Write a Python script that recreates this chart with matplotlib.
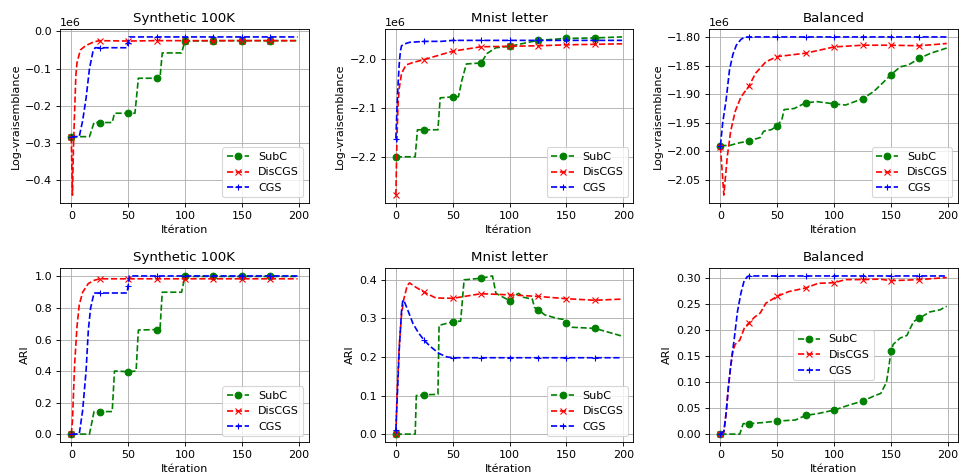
import numpy as np
import matplotlib
matplotlib.use("Agg")
import matplotlib.pyplot as plt

# Titres et etiquettes
titres = ["Synthetic 100K", "Mnist letter", "Balanced"]
noms = ["SubC", "DisCGS", "CGS"]

# Log-vraisemblance (en millions)
syn_ll_subc_x = [0, 16, 20, 25, 36, 38, 50, 56, 59, 75, 78, 80, 97, 100, 125, 150, 175, 199]
syn_ll_subc_y = [-0.283, -0.283, -0.245, -0.245, -0.245, -0.220, -0.220, -0.220, -0.126, -0.126,
                 -0.126, -0.058, -0.058, -0.026, -0.025, -0.025, -0.025, -0.025]
syn_ll_dis_x = [0, 1, 2, 4, 5, 8, 12, 15, 20, 25, 50, 75, 100, 125, 150, 175, 199]
syn_ll_dis_y = [-0.285, -0.44, -0.30, -0.12, -0.085, -0.05, -0.04, -0.035, -0.028, -0.025,
                -0.026, -0.025, -0.025, -0.025, -0.025, -0.025, -0.025]
syn_ll_cgs_x = [0, 7, 10, 13, 16, 19, 21, 25, 49, 50, 51, 75, 100, 125, 150, 175, 199]
syn_ll_cgs_y = [-0.283, -0.283, -0.24, -0.18, -0.10, -0.055, -0.044, -0.044, -0.044, -0.032,
                -0.015, -0.015, -0.015, -0.015, -0.015, -0.015, -0.015]

mn_ll_subc_x = [0, 17, 19, 25, 37, 39, 50, 55, 58, 62, 75, 80, 88, 100, 125, 150, 175, 199]
mn_ll_subc_y = [-2.2, -2.2, -2.145, -2.145, -2.145, -2.08, -2.078, -2.078, -2.045, -2.011, -2.009,
                -1.99, -1.978, -1.975, -1.963, -1.959, -1.958, -1.956]
mn_ll_dis_x = [0, 1, 2, 3, 5, 9, 15, 25, 50, 75, 100, 125, 150, 175, 199]
mn_ll_dis_y = [-2.278, -2.16, -2.09, -2.06, -2.03, -2.013, -2.008, -2.002, -1.985, -1.976,
               -1.975, -1.974, -1.972, -1.971, -1.970]
mn_ll_cgs_x = [0, 1, 2, 3, 4, 5, 8, 12, 25, 40, 50, 75, 100, 125, 150, 175, 199]
mn_ll_cgs_y = [-2.163, -2.10, -2.05, -2.01, -1.985, -1.974, -1.970, -1.967, -1.965, -1.965,
               -1.963, -1.963, -1.963, -1.963, -1.963, -1.963, -1.963]

bal_ll_subc_x = [0, 8, 15, 25, 35, 38, 45, 50, 54, 56, 65, 75, 85, 100, 110, 125, 135, 150,
                 158, 165, 175, 185, 199]
bal_ll_subc_y = [-1.99, -1.99, -1.986, -1.982, -1.976, -1.965, -1.962, -1.955, -1.945, -1.927,
                 -1.925, -1.915, -1.913, -1.917, -1.919, -1.908, -1.895, -1.866, -1.852, -1.849,
                 -1.837, -1.828, -1.819]
bal_ll_dis_x = [0, 3, 6, 9, 13, 18, 25, 31, 40, 50, 75, 100, 125, 150, 175, 199]
bal_ll_dis_y = [-1.992, -2.077, -2.01, -1.965, -1.93, -1.905, -1.886, -1.863, -1.843, -1.834,
                -1.828, -1.817, -1.814, -1.814, -1.815, -1.811]
bal_ll_cgs_x = [0, 2, 5, 8, 11, 14, 18, 21, 25, 50, 75, 100, 125, 150, 175, 199]
bal_ll_cgs_y = [-1.99, -1.95, -1.91, -1.857, -1.83, -1.814, -1.804, -1.80, -1.7995, -1.7995,
                -1.7995, -1.7995, -1.7995, -1.7995, -1.7995, -1.7995]

# ARI
syn_ari_subc_x = [0, 16, 20, 25, 36, 38, 50, 57, 59, 75, 78, 80, 97, 100, 125, 150, 175, 199]
syn_ari_subc_y = [0, 0, 0.143, 0.143, 0.143, 0.40, 0.396, 0.40, 0.66, 0.663, 0.663, 0.90, 0.90,
                  1.0, 1.0, 1.0, 1.0, 1.0]
syn_ari_dis_x = [0, 1, 2, 3, 5, 7, 10, 15, 20, 25, 50, 75, 100, 125, 150, 175, 199]
syn_ari_dis_y = [0, 0.08, 0.27, 0.45, 0.68, 0.82, 0.90, 0.955, 0.975, 0.985, 0.985, 0.985,
                 0.985, 0.985, 0.985, 0.985, 0.985]
syn_ari_cgs_x = [0, 7, 10, 13, 15, 17, 20, 25, 49, 50, 51, 75, 100, 125, 150, 175, 199]
syn_ari_cgs_y = [0, 0, 0.15, 0.40, 0.66, 0.80, 0.895, 0.895, 0.895, 0.94, 1.003, 1.003, 1.003,
                 1.003, 1.003, 1.003, 1.003]

mn_ari_subc_x = [0, 17, 18, 25, 37, 38, 50, 57, 60, 75, 85, 88, 100, 105, 108, 112, 120, 122,
                 125, 131, 142, 148, 150, 155, 175, 186, 199]
mn_ari_subc_y = [0, 0, 0.1, 0.102, 0.103, 0.282, 0.291, 0.293, 0.40, 0.404, 0.41, 0.365, 0.346,
                 0.36, 0.365, 0.355, 0.35, 0.328, 0.323, 0.309, 0.30, 0.297, 0.287, 0.277, 0.274,
                 0.265, 0.254]
mn_ari_dis_x = [0, 1, 3, 5, 7, 10, 12, 18, 25, 35, 50, 75, 100, 125, 150, 175, 199]
mn_ari_dis_y = [0, 0.1, 0.23, 0.31, 0.35, 0.385, 0.392, 0.38, 0.368, 0.353, 0.352, 0.364, 0.361,
                0.357, 0.351, 0.347, 0.350]
mn_ari_cgs_x = [0, 1, 3, 5, 6, 7, 10, 15, 20, 25, 30, 38, 45, 50, 75, 100, 125, 150, 175, 199]
mn_ari_cgs_y = [0.01, 0.08, 0.22, 0.32, 0.345, 0.347, 0.325, 0.287, 0.262, 0.243, 0.228, 0.209,
                0.20, 0.198, 0.198, 0.198, 0.198, 0.198, 0.198, 0.198]

bal_ari_subc_x = [0, 17, 20, 25, 37, 50, 66, 75, 85, 100, 115, 125, 135, 141, 146, 148, 150, 152,
                  158, 164, 167, 170, 175, 184, 193, 199]
bal_ari_subc_y = [0, 0, 0.02, 0.02, 0.022, 0.025, 0.027, 0.036, 0.039, 0.046, 0.057, 0.063, 0.073,
                  0.078, 0.099, 0.127, 0.159, 0.172, 0.184, 0.189, 0.203, 0.216, 0.222, 0.234,
                  0.238, 0.245]
bal_ari_dis_x = [0, 3, 5, 7, 9, 11, 13, 17, 21, 25, 30, 35, 40, 50, 60, 75, 86, 100, 110, 125,
                 140, 150, 175, 199]
bal_ari_dis_y = [0, 0.003, 0.04, 0.09, 0.13, 0.16, 0.172, 0.18, 0.203, 0.213, 0.224, 0.232, 0.251,
                 0.264, 0.273, 0.28, 0.289, 0.29, 0.296, 0.296, 0.297, 0.294, 0.296, 0.30]
bal_ari_cgs_x = [0, 3, 5, 7, 9, 12, 15, 18, 21, 24, 25, 50, 75, 100, 125, 150, 175, 199]
bal_ari_cgs_y = [0, 0.005, 0.04, 0.09, 0.13, 0.18, 0.235, 0.27, 0.295, 0.302, 0.303, 0.303, 0.303,
                 0.303, 0.303, 0.303, 0.303, 0.303]

ll = [
    [(syn_ll_subc_x, syn_ll_subc_y), (syn_ll_dis_x, syn_ll_dis_y), (syn_ll_cgs_x, syn_ll_cgs_y)],
    [(mn_ll_subc_x, mn_ll_subc_y), (mn_ll_dis_x, mn_ll_dis_y), (mn_ll_cgs_x, mn_ll_cgs_y)],
    [(bal_ll_subc_x, bal_ll_subc_y), (bal_ll_dis_x, bal_ll_dis_y), (bal_ll_cgs_x, bal_ll_cgs_y)],
]
ari = [
    [(syn_ari_subc_x, syn_ari_subc_y), (syn_ari_dis_x, syn_ari_dis_y), (syn_ari_cgs_x, syn_ari_cgs_y)],
    [(mn_ari_subc_x, mn_ari_subc_y), (mn_ari_dis_x, mn_ari_dis_y), (mn_ari_cgs_x, mn_ari_cgs_y)],
    [(bal_ari_subc_x, bal_ari_subc_y), (bal_ari_dis_x, bal_ari_dis_y), (bal_ari_cgs_x, bal_ari_cgs_y)],
]

styles = [("g", "o"), ("r", "x"), ("b", "+")]
legend_loc = [["lower right", "lower right", "lower right"],
              ["lower right", "lower right", "center"]]


def trace(ax, series, titre, ylabel, scale, loc):
    for (x, y), nom, (c, m) in zip(series, noms, styles):
        x = np.array(x)
        y = np.array(y) * scale
        idx = [i for i, v in enumerate(x) if v % 25 == 0]
        ax.plot(x, y, linestyle="--", color=c, marker=m, markevery=idx, label=nom)
    ax.set_title(titre)
    ax.set_xlabel("Itération")
    ax.set_ylabel(ylabel)
    ax.set_xticks([0, 50, 100, 150, 200])
    ax.grid(True)
    ax.legend(loc=loc)


fig, axes = plt.subplots(2, 3, figsize=(961 / 80, 476 / 80), dpi=80)
for j in range(3):
    trace(axes[0, j], ll[j], titres[j], "Log-vraisemblance", 1e6, legend_loc[0][j])
    axes[0, j].ticklabel_format(axis="y", style="sci", scilimits=(6, 6))
    trace(axes[1, j], ari[j], titres[j], "ARI", 1.0, legend_loc[1][j])

fig.subplots_adjust(left=0.0624, right=0.9969, top=0.939, bottom=0.0714, wspace=0.304, hspace=0.374)
fig.savefig("out.png", dpi=80)
